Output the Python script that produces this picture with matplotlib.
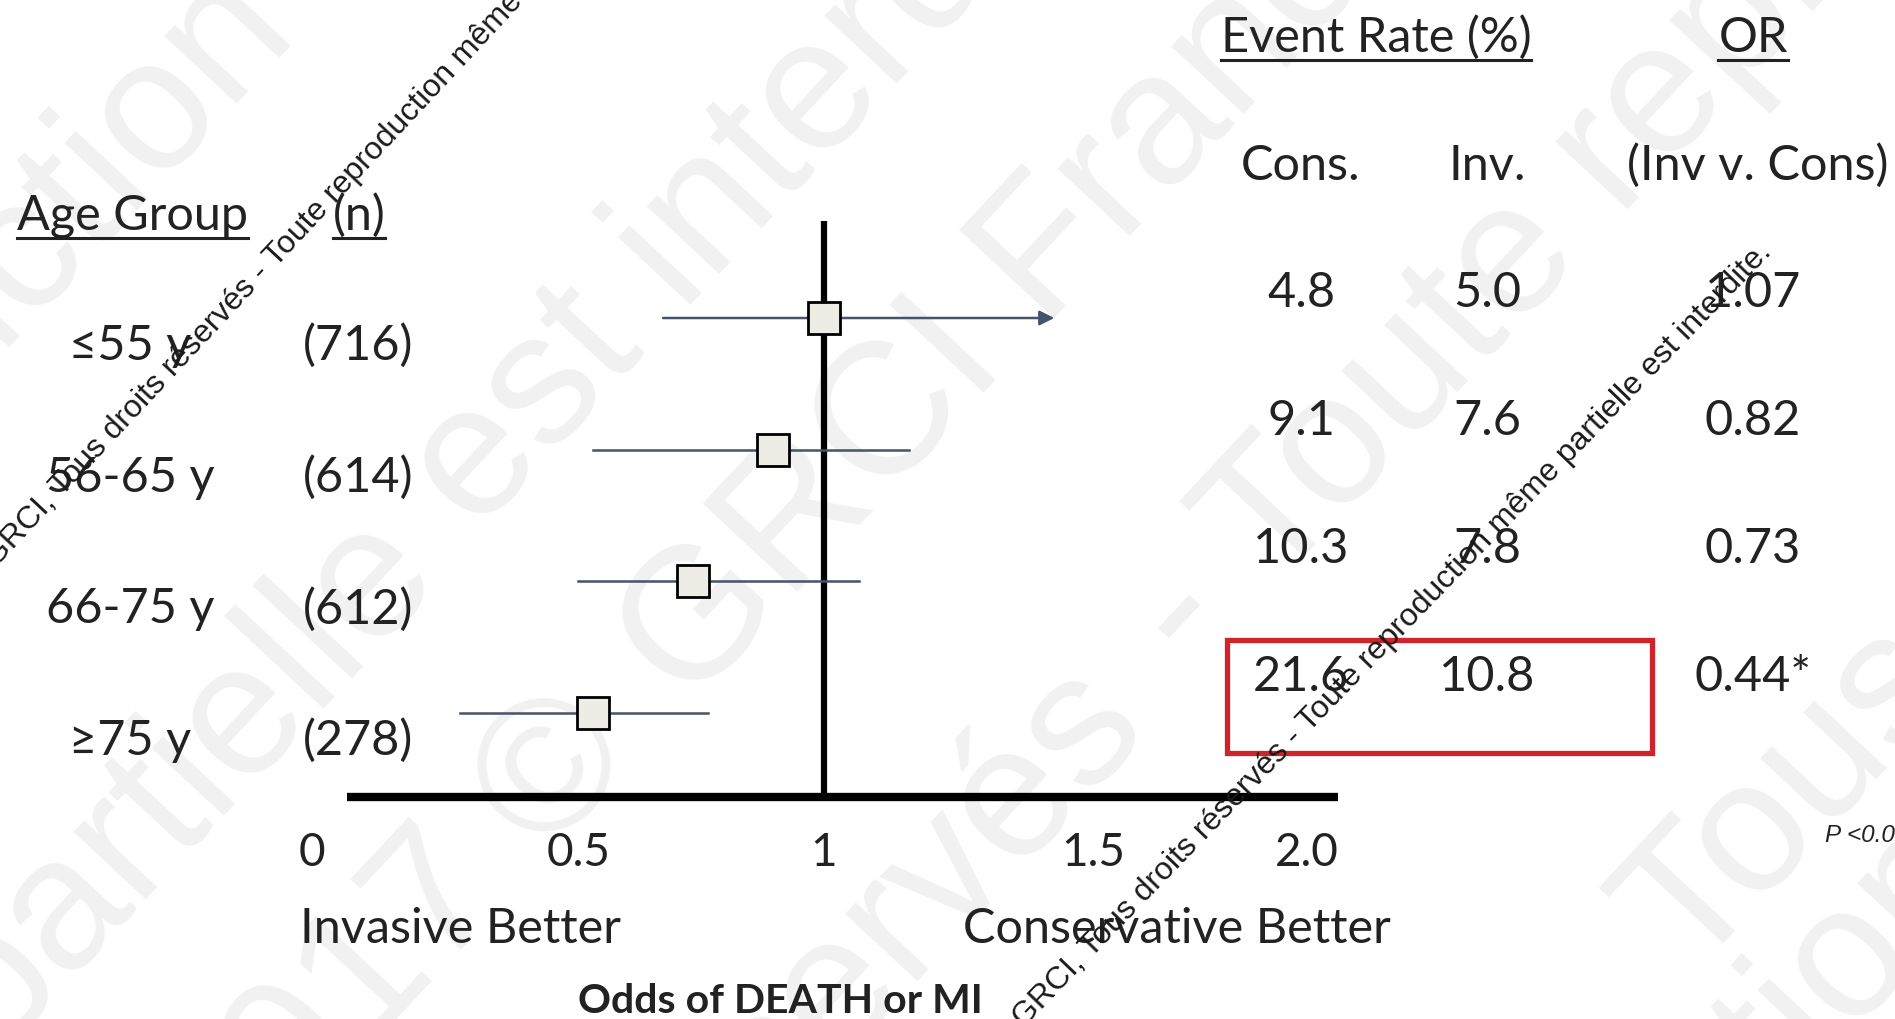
import matplotlib
matplotlib.use("Agg")
import matplotlib.pyplot as plt
from matplotlib.lines import Line2D
from matplotlib.patches import Rectangle
import matplotlib.transforms as mtransforms

# ---- data ----
age_groups = ["≤55 y", "56-65 y", "66-75 y", "≥75 y"]
n_patients = ["(716)", "(614)", "(612)", "(278)"]
or_point = [1.00, 0.90, 0.74, 0.54]      # drawn square positions
ci_low = [0.68, 0.54, 0.51, 0.275]
ci_high = [1.46, 1.17, 1.07, 0.77]
ci_arrow = [True, False, False, False]
rate_cons = ["4.8", "9.1", "10.3", "21.6"]
rate_inv = ["5.0", "7.6", "7.8", "10.8"]
odds_ratio = ["1.07", "0.82", "0.73", "0.44*"]
tick_vals = [0, 0.5, 1, 1.5, 2]
tick_labels = ["0", "0.5", "1", "1.5", "2.0"]
tick_nudge = [-10, 6, 0, 19, -18]   # text boxes on the slide are not evenly spaced (px)

W, H = 1895, 1019
FONT = ["Lato", "DejaVu Sans"]
TXT = "#222222"
plt.rcParams["font.family"] = FONT

fig = plt.figure(figsize=(W / 100, H / 100), dpi=100)
fig.patch.set_facecolor("white")


def fx(x):
    return x / W


def fy(y):
    return 1 - y / H


# faint background watermark
wm_big = "#f1f1f1"
for s, x, y, ha in [("reproduction", 260, -6, "right"),
                    ("partielle", 405, 538, "right"),
                    ("est interdite", 441, 502, "left"),
                    ("2017 ©", 604, 725, "right"),
                    ("GRCI France", 653, 677, "left"),
                    ("réservés", 1112, 689, "right"),
                    ("- Toute reproduction", 1160, 640, "left"),
                    ("Tous", 1789, 798, "center"),
                    ("ion ,", 1560, 990, "right"),
                    ("tion", 1750, 1070, "left")]:
    fig.text(fx(x), fy(y), s, fontsize=135, color=wm_big, rotation=47,
             rotation_mode="anchor", ha=ha, va="center", zorder=-5,
             family=["Liberation Sans"])

ax = fig.add_axes([0, 0, 1, 1])
ax.set_facecolor("none")
ax.axis("off")
x0 = -322 / 501.6
ax.set_xlim(x0, x0 + W / 501.6)
ax.set_ylim(701 / 131.7, -318 / 131.7)

rows = list(range(len(age_groups)))

# reference line and axis
ax.plot([1, 1], [-0.737, 3.64], color="black", lw=4.5, solid_capstyle="butt", zorder=2)
ax.plot([0.05, 2.026], [3.637, 3.637], color="black", lw=6, solid_capstyle="butt", zorder=2)

ci_col = "#44546a"
for r, lo, hi, arr in zip(rows, ci_low, ci_high, ci_arrow):
    if arr:
        ax.annotate("", xy=(hi, r), xytext=(lo, r),
                    arrowprops=dict(arrowstyle="-|>", color=ci_col, lw=1.8,
                                    mutation_scale=22, shrinkA=0, shrinkB=0),
                    zorder=3)
    else:
        ax.plot([lo, hi], [r, r], color=ci_col, lw=1.8, zorder=3)
ax.plot(or_point, rows, ls="none", marker="s", markersize=23,
        markerfacecolor="#eeede5", markeredgecolor="black", markeredgewidth=2, zorder=4)

# tick labels under the axis
blend = mtransforms.blended_transform_factory(ax.transData, fig.transFigure)
for v, lab, dx in zip(tick_vals, tick_labels, tick_nudge):
    tr = blend + mtransforms.ScaledTranslation(dx / 100, 0, fig.dpi_scale_trans)
    ax.text(v, fy(866), lab, transform=tr, ha="center", va="baseline",
            fontsize=33, color=TXT)

fs = 35
heads = []
heads.append(fig.text(fx(17), fy(230), "Age Group", fontsize=fs, color=TXT, va="baseline"))
heads.append(fig.text(fx(359), fy(230), "(n)", fontsize=fs, color=TXT, va="baseline", ha="center"))
heads.append(fig.text(fx(1376), fy(52), "Event Rate (%)", fontsize=fs, color=TXT, va="baseline", ha="center"))
heads.append(fig.text(fx(1753), fy(52), "OR", fontsize=fs, color=TXT, va="baseline", ha="center"))

fig.text(fx(1301), fy(180), "Cons.", fontsize=fs, color=TXT, va="baseline", ha="center")
fig.text(fx(1487), fy(180), "Inv.", fontsize=fs, color=TXT, va="baseline", ha="center")
fig.text(fx(1758), fy(180), "(Inv v. Cons)", fontsize=fs, color=TXT, va="baseline", ha="center")

for i, (g, n) in enumerate(zip(age_groups, n_patients)):
    yb = 360 + 131.7 * i
    fig.text(fx(130), fy(yb), g, fontsize=fs, color=TXT, va="baseline", ha="center")
    fig.text(fx(358), fy(yb), n, fontsize=fs, color=TXT, va="baseline", ha="center")

for i, (c, v, o) in enumerate(zip(rate_cons, rate_inv, odds_ratio)):
    yb = 307 + 128 * i
    fig.text(fx(1301), fy(yb), c, fontsize=fs, color=TXT, va="baseline", ha="center")
    fig.text(fx(1487), fy(yb), v, fontsize=fs, color=TXT, va="baseline", ha="center")
    fig.text(fx(1753), fy(yb), o, fontsize=fs, color=TXT, va="baseline", ha="center")

fig.text(fx(300), fy(943), "Invasive Better", fontsize=fs, color=TXT, va="baseline")
fig.text(fx(963), fy(943), "Conservative Better", fontsize=fs, color=TXT, va="baseline")
fig.text(fx(780), fy(1013), "Odds of DEATH or MI", fontsize=29.5, fontweight="bold",
         color=TXT, va="baseline", ha="center")
fig.text(fx(1825), fy(842), "P <0.05", fontsize=17.5, style="italic", color=TXT,
         va="baseline", family=["Liberation Sans"])

# highlight box around the >=75 event rates
fig.add_artist(Rectangle((fx(1227), fy(753)), (1652 - 1227) / W, (753 - 640) / H,
                         transform=fig.transFigure, fill=False, edgecolor="#d0232a", lw=3.8))

# small copyright watermark
wm = "GRCI, Tous droits réservés - Toute reproduction même partielle est interdite."
for x, y, rot in [(-4, 568, 47), (1024, 1028, 46)]:
    fig.text(fx(x), fy(y), wm, fontsize=23, color="#1a1a1a", rotation=rot,
             rotation_mode="anchor", ha="left", va="baseline", zorder=5,
             family=["Liberation Sans"])

# underline the column headers
fig.canvas.draw()
r = fig.canvas.get_renderer()
for t in heads:
    bb = t.get_window_extent(r)
    ybase = H - (H * t.get_position()[1])
    fig.add_artist(Line2D([fx(bb.x0), fx(bb.x1)], [fy(ybase + 8), fy(ybase + 8)],
                          transform=fig.transFigure, color=TXT, lw=2.2))

fig.savefig("out.png", dpi=100)
